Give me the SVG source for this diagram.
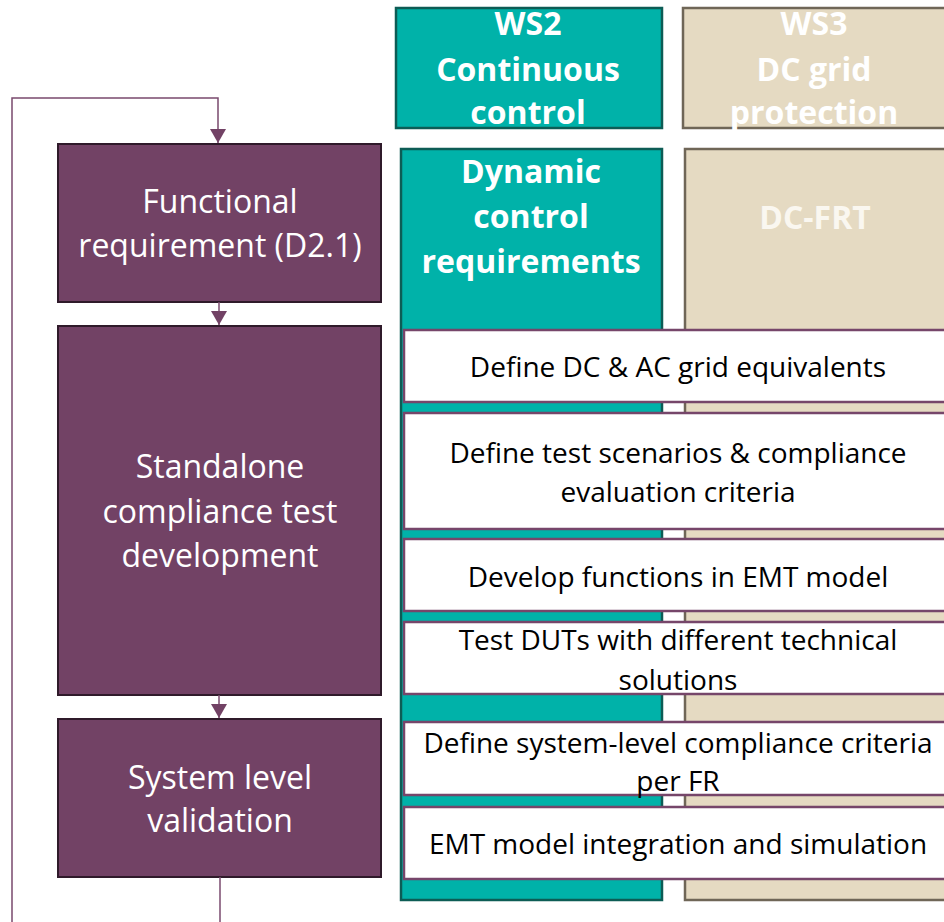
<svg xmlns="http://www.w3.org/2000/svg" width="944" height="922" viewBox="0 0 944 922">
  <style>
    text { font-family: "Open Sans", "Noto Sans", "Liberation Sans", sans-serif; text-anchor: middle; }
    .step { fill: #724265; stroke: #2f1a2a; stroke-width: 2; }
    .step-t { fill: #ffffff; font-size: 32px; }
    .ws2 { fill: #00b2a9; stroke: #0d5c55; stroke-width: 2.5; }
    .ws3 { fill: #e5dac2; stroke: #6f6657; stroke-width: 2.5; }
    .hdr-t { fill: #ffffff; font-size: 32px; font-weight: bold; }
    .ws3-t { fill: #faf7f0; }
    .task { fill: #ffffff; stroke: #76466a; stroke-width: 2.5; }
    .task-t { fill: #000000; font-size: 28px; }
    .link { fill: none; stroke: #7a4a6e; stroke-width: 1.5; }
  </style>
  <defs>
    <!-- filled arrowhead, tip at the end of the line -->
    <marker id="arrow" viewBox="0 0 14 16" refX="14" refY="8" markerWidth="14" markerHeight="16" markerUnits="userSpaceOnUse" orient="auto">
      <path d="M0,0 L14,8 L0,16 Z" fill="#724265"/>
    </marker>
  </defs>
  <rect width="944" height="922" fill="#ffffff"/>

  <!-- work stream columns -->
  <g id="ws2-header">
    <rect class="ws2" x="396" y="8" width="266" height="120"/>
    <text class="hdr-t" x="528" y="35">WS2</text>
    <text class="hdr-t" x="528" y="81">Continuous</text>
    <text class="hdr-t" x="528" y="124">control</text>
  </g>
  <g id="ws3-header">
    <rect class="ws3" x="683" y="8" width="290" height="120"/>
    <text class="hdr-t" x="814" y="35">WS3</text>
    <text class="hdr-t" x="814" y="81">DC grid</text>
    <text class="hdr-t" x="814" y="124">protection</text>
  </g>
  <g id="ws2-column">
    <rect class="ws2" x="401" y="149" width="261" height="751"/>
    <text class="hdr-t" x="531" y="183">Dynamic</text>
    <text class="hdr-t" x="531" y="228">control</text>
    <text class="hdr-t" x="531" y="273">requirements</text>
  </g>
  <g id="ws3-column">
    <rect class="ws3" x="685" y="149" width="290" height="751"/>
    <text class="hdr-t ws3-t" x="815" y="229">DC-FRT</text>
  </g>

  <!-- process steps -->
  <g id="functional-requirement">
    <rect class="step" x="58" y="144" width="323" height="158"/>
    <text class="step-t" x="220" y="213">Functional</text>
    <text class="step-t" x="220" y="257">requirement (D2.1)</text>
  </g>
  <g id="standalone-test">
    <rect class="step" x="58" y="326" width="323" height="369"/>
    <text class="step-t" x="220" y="478">Standalone</text>
    <text class="step-t" x="220" y="523">compliance test</text>
    <text class="step-t" x="220" y="567">development</text>
  </g>
  <g id="system-validation">
    <rect class="step" x="58" y="719" width="323" height="158"/>
    <text class="step-t" x="220" y="789">System level</text>
    <text class="step-t" x="220" y="832">validation</text>
  </g>

  <!-- tasks spanning both work streams -->
  <g id="task-grid-equivalents">
    <rect class="task" x="404" y="330" width="560" height="72"/>
    <text class="task-t" x="678" y="377">Define DC &amp; AC grid equivalents</text>
  </g>
  <g id="task-test-scenarios">
    <rect class="task" x="404" y="413" width="560" height="116"/>
    <text class="task-t" x="678" y="463">Define test scenarios &amp; compliance</text>
    <text class="task-t" x="678" y="502">evaluation criteria</text>
  </g>
  <g id="task-emt-functions">
    <rect class="task" x="404" y="539" width="560" height="72"/>
    <text class="task-t" x="678" y="587">Develop functions in EMT model</text>
  </g>
  <g id="task-test-duts">
    <rect class="task" x="404" y="622" width="560" height="72"/>
    <text class="task-t" x="678" y="650">Test DUTs with different technical</text>
    <text class="task-t" x="678" y="690">solutions</text>
  </g>
  <g id="task-system-criteria">
    <rect class="task" x="404" y="722" width="560" height="73"/>
    <text class="task-t" x="678" y="753">Define system-level compliance criteria</text>
    <text class="task-t" x="678" y="791">per FR</text>
  </g>
  <g id="task-emt-integration">
    <rect class="task" x="404" y="807" width="560" height="72"/>
    <text class="task-t" x="678" y="854">EMT model integration and simulation</text>
  </g>

  <!-- connectors -->
  <g id="connectors">
    <path class="link" d="M219,302 V325" marker-end="url(#arrow)"/>
    <path class="link" d="M219,695 V718" marker-end="url(#arrow)"/>
    <path class="link" d="M220,877 V922"/>
    <path class="link" d="M12,922 V98 H218 V143" marker-end="url(#arrow)"/>
  </g>
</svg>
